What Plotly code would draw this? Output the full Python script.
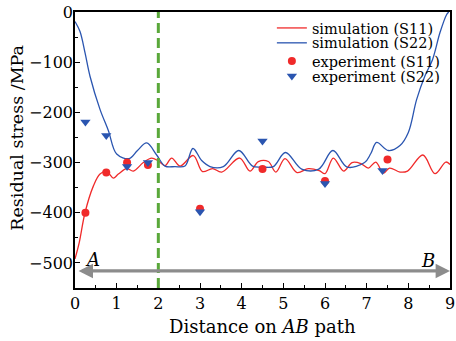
import plotly.graph_objects as go

# ---- data ----
sim_s11_x = [0, 0.1, 0.24, 0.44, 0.6, 0.76, 0.92, 1.04, 1.24, 1.4, 1.64, 1.84, 2.0, 2.16, 2.32,
             2.52, 2.84, 3.06, 3.3, 3.52, 3.95, 4.2, 4.4, 4.64, 4.82, 5.04, 5.33, 5.6, 5.86,
             6.0, 6.2, 6.45, 6.65, 6.86, 7.04, 7.22, 7.4, 7.55, 7.8, 7.98, 8.35, 8.64, 8.9, 9.0]
sim_s11_y = [-492, -460, -400, -347, -323, -318, -331, -323, -312, -317, -300, -291, -297, -306, -291,
             -307, -286, -318, -312, -319, -291, -317, -298, -298, -319, -292, -320, -312, -316,
             -322, -291, -317, -300, -302, -311, -299, -321, -311, -319, -317, -285, -322, -299, -304]

sim_s22_x = [0, 0.12, 0.24, 0.36, 0.6, 0.8, 1.0, 1.3, 1.5, 1.72, 1.96, 2.16, 2.4, 2.64, 2.83,
             3.04, 3.24, 3.56, 3.93, 4.26, 4.5, 4.76, 5.05, 5.44, 5.85, 6.19, 6.53, 6.95, 7.1,
             7.24, 7.52, 7.8, 8.0, 8.2, 8.4, 8.58, 8.76, 8.92, 8.97]
sim_s22_y = [-19, -39, -81, -128, -194, -236, -283, -292, -276, -261, -285, -307, -308, -307, -272,
             -296, -308, -308, -276, -307, -309, -308, -280, -313, -313, -276, -309, -300, -282,
             -260, -276, -266, -240, -174, -127, -95, -41, -5, 0]

exp_s11_x = [0.25, 0.75, 1.25, 1.75, 3.0, 4.5, 6.0, 7.5]
exp_s11_y = [-400, -320, -300, -305, -392, -313, -337, -294]

exp_s22_x = [0.25, 0.75, 1.25, 1.75, 3.0, 4.5, 6.0, 7.38]
exp_s22_y = [-219, -246, -308, -300, -398, -257, -342, -316]

x_ticks = [0, 1, 2, 3, 4, 5, 6, 7, 8, 9]
y_ticks = [0, -100, -200, -300, -400, -500]
boundary_x = 2
path_start, path_end, path_y = 0.05, 9.0, -516

RED = "#f02a2a"
BLUE = "#2a55b0"
FONT = "DejaVu Serif"

fig = go.Figure()
fig.add_trace(go.Scatter(x=sim_s11_x, y=sim_s11_y, mode="lines", name="simulation (S11)",
                         legend="legend2",
                         line=dict(color=RED, width=1.3, shape="spline", smoothing=1.0)))
fig.add_trace(go.Scatter(x=sim_s22_x, y=sim_s22_y, mode="lines", name="simulation (S22)",
                         legend="legend3",
                         line=dict(color=BLUE, width=1.3, shape="spline", smoothing=1.0)))
fig.add_trace(go.Scatter(x=exp_s11_x, y=exp_s11_y, mode="markers", name="experiment (S11)",
                         legend="legend4",
                         marker=dict(color=RED, size=8, symbol="circle")))
fig.add_trace(go.Scatter(x=exp_s22_x, y=exp_s22_y, mode="markers", name="experiment (S22)",
                         legend="legend5",
                         marker=dict(color=BLUE, size=9, symbol="triangle-down")))

fig.add_shape(type="line", xref="x", yref="paper", x0=boundary_x, x1=boundary_x, y0=0, y1=1,
              line=dict(color="#5aa83a", width=3, dash="10px,5px"))

fig.add_annotation(x=path_end, y=path_y, ax=path_start, ay=path_y, xref="x", yref="y",
                   axref="x", ayref="y", text="", showarrow=True, arrowhead=2, arrowside="end+start",
                   arrowsize=0.9, arrowwidth=3.2, arrowcolor="#8c8c8c")
fig.add_annotation(x=0.43, y=-494, xref="x", yref="y", text="<i>A</i>", showarrow=False,
                   font=dict(family=FONT, size=18, color="black"))
fig.add_annotation(x=8.47, y=-496, xref="x", yref="y", text="<i>B</i>", showarrow=False,
                   font=dict(family=FONT, size=18, color="black"))
fig.add_annotation(x=-0.157, y=0.545, xref="paper", yref="paper", xanchor="center", yanchor="middle",
                   text="Residual stress /MPa", textangle=-90, showarrow=False,
                   font=dict(family=FONT, size=17.5, color="black"))
fig.add_annotation(x=0.5, y=-0.095, xref="paper", yref="paper", xanchor="center", yanchor="top",
                   text="Distance on <i>AB</i> path", showarrow=False,
                   font=dict(family=FONT, size=18, color="black"))

axis_common = dict(showline=True, linecolor="black", linewidth=1.5, mirror=True,
                   ticks="inside", ticklen=5, tickwidth=1.2, tickcolor="black",
                   showgrid=False, zeroline=False, automargin=False,
                   tickfont=dict(family=FONT, size=16, color="black"))
fig.update_xaxes(range=[0, 9], tickvals=x_ticks, ticktext=[str(v) for v in x_ticks],
                 minor=dict(ticks="inside", ticklen=3, dtick=0.5, tickcolor="black"),
                 **axis_common)
fig.update_yaxes(range=[-550, 0], tickvals=y_ticks, ticklabelstandoff=-3,
                 minor=dict(ticks="inside", ticklen=3, dtick=50, tickcolor="black"),
                 **axis_common)

leg_font = dict(family=FONT, size=14.5, color="black")
leg_common = dict(x=0.525, xanchor="left", yanchor="middle", bgcolor="rgba(0,0,0,0)",
                  font=leg_font, borderwidth=0)
fig.update_layout(width=456, height=341, margin=dict(l=75, r=6, t=12, b=53),
                  plot_bgcolor="white", paper_bgcolor="white",
                  font=dict(family=FONT, color="black"),
                  showlegend=True,
                  legend2=dict(y=0.942, **leg_common),
                  legend3=dict(y=0.888, **leg_common),
                  legend4=dict(y=0.822, **leg_common),
                  legend5=dict(y=0.768, **leg_common))
fig.write_html("out.html", config={"displayModeBar": False},
               post_script="document.body.style.margin='0';document.body.style.padding='0';")
